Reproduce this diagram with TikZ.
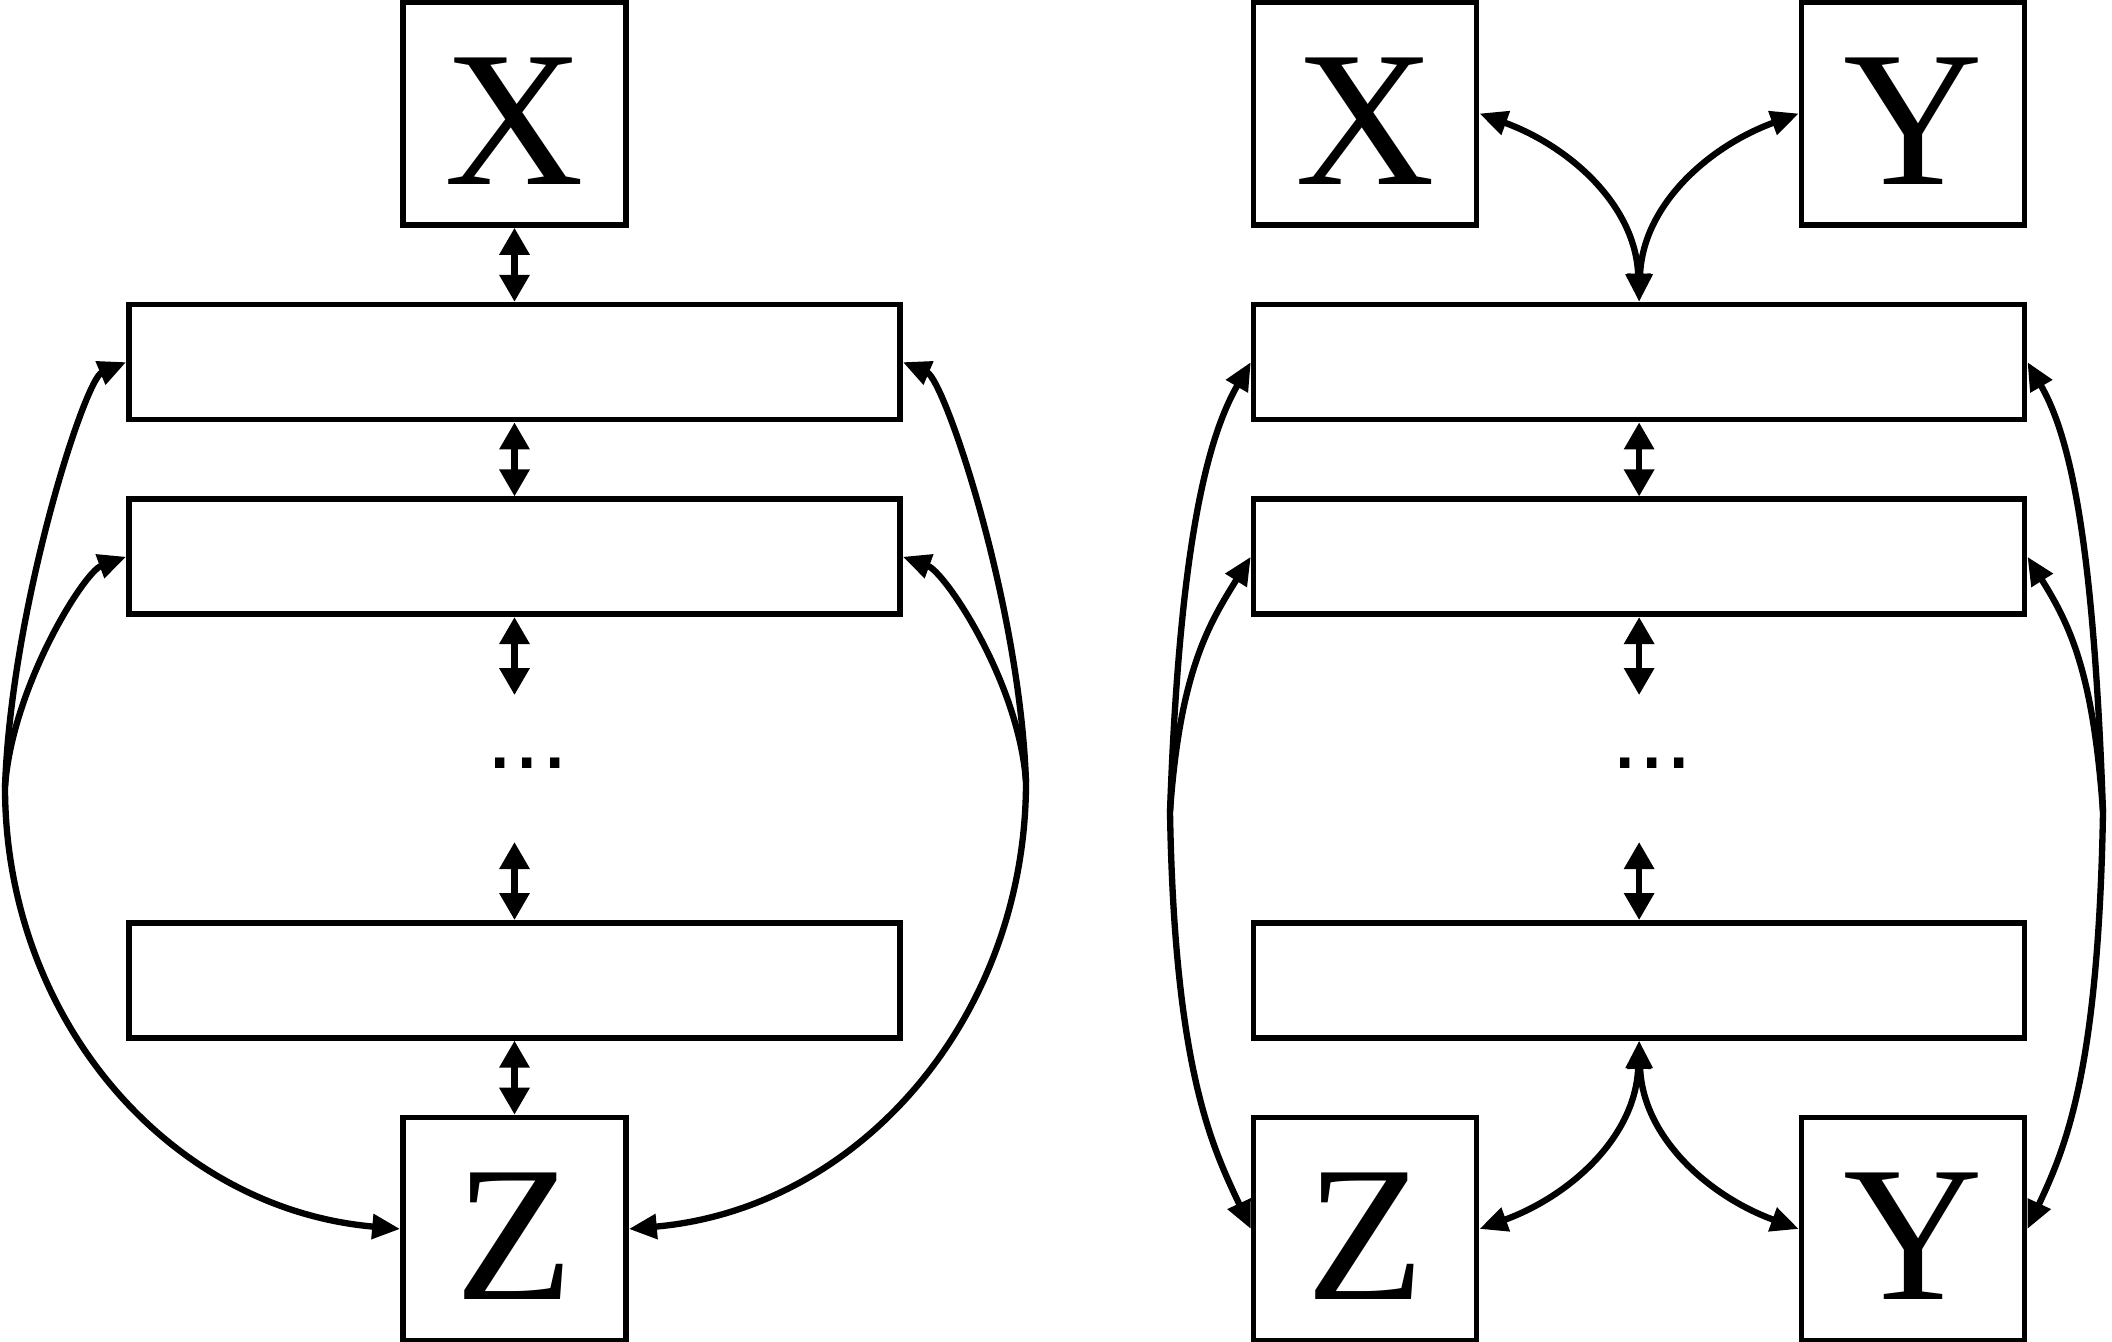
\documentclass[tikz,border=0pt]{standalone}
\usepackage{fontspec}
\setmainfont{Liberation Serif}
\newfontfamily\dotsfont{Liberation Sans}
\usetikzlibrary{arrows.meta,positioning,calc}

\begin{document}
\begin{tikzpicture}[
  node distance=0.74cm and 3.48cm,
  letter/.style={draw, line width=1.6pt, minimum width=2.23cm, minimum height=2.23cm, inner sep=0pt, text height=1.42cm, font=\fontsize{55}{60}\selectfont},
  bar/.style={draw, line width=1.6pt, minimum width=7.71cm, minimum height=1.15cm, inner sep=0pt},
  gap/.style={font=\dotsfont\fontsize{28}{30}\selectfont, inner sep=0pt},
  dbl/.style={{Triangle[length=0.27cm,width=0.29cm]}-{Triangle[length=0.27cm,width=0.29cm]}, line width=1.8pt},
  fork/.style={{Triangle[length=0.28cm,width=0.24cm]}-{Triangle[length=0.28cm,width=0.24cm]}, line width=1.8pt},
  arrow/.style={-{Triangle[length=0.28cm,width=0.24cm]}, line width=1.8pt}
]
\useasboundingbox (0,0) rectangle (21.12,13.42);

% left stack
\node[letter] (xl) at (5.145,12.285) {X};
\node[bar, below=of xl] (l1) {};
\node[bar, below=of l1] (l2) {};
\node[bar, below=3.03cm of l2] (l3) {};
\node[letter, below=of l3] (zl) {Z};
\node[gap] (ldots) at ($(l2.south)!0.5!(l3.north)+(0.13,0.05)$) {...};
\coordinate (l2e) at ([yshift=-0.78cm]l2.south);
\coordinate (l3e) at ([yshift=0.78cm]l3.north);
\coordinate (lhl) at (0.05,5.55);
\coordinate (lhr) at (10.26,5.6);

\draw[dbl] (xl) -- (l1);
\draw[dbl] (l1) -- (l2);
\draw[dbl] (l2) -- (l2e);
\draw[dbl] (l3e) -- (l3);
\draw[dbl] (l3) -- (zl);

\draw[arrow] (lhl) .. controls +(88:1.8) and +(203:0.45) .. (l1.west);
\draw[arrow] (lhl) .. controls +(86:1.0) and +(200:0.45) .. (l2.west);
\draw[arrow] (lhl) to[out=-90,in=175] (zl.west);
\draw[arrow] (lhr) .. controls +(92:1.8) and +(-23:0.45) .. (l1.east);
\draw[arrow] (lhr) .. controls +(94:1.0) and +(-20:0.45) .. (l2.east);
\draw[arrow] (lhr) to[out=-90,in=5] (zl.east);

% right stack
\node[bar, right=of l1] (r1) {};
\node[bar, right=of l2] (r2) {};
\node[bar, right=of l3] (r3) {};
\node[letter, anchor=south west] (xr) at ([yshift=0.74cm]r1.north west) {X};
\node[letter, anchor=south east] (yt) at ([yshift=0.74cm]r1.north east) {Y};
\node[letter, anchor=north west] (zr) at ([yshift=-0.74cm]r3.south west) {Z};
\node[letter, anchor=north east] (yb) at ([yshift=-0.74cm]r3.south east) {Y};
\node[gap] (rdots) at ($(r2.south)!0.5!(r3.north)+(0.13,0.05)$) {...};
\coordinate (r2e) at ([yshift=-0.78cm]r2.south);
\coordinate (r3e) at ([yshift=0.78cm]r3.north);
\coordinate (rhl) at (11.70,5.3);
\coordinate (rhr) at (21.03,5.3);

\draw[dbl] (r1) -- (r2);
\draw[dbl] (r2) -- (r2e);
\draw[dbl] (r3e) -- (r3);

\draw[fork] (r1.north) to[out=92,in=-20] (xr.east);
\draw[fork] (r1.north) to[out=88,in=200] (yt.west);
\draw[fork] (r3.south) to[out=-92,in=20] (zr.east);
\draw[fork] (r3.south) to[out=-88,in=160] (yb.west);

\draw[arrow] (rhl) .. controls +(88:2.6) and +(240:0.9) .. (r1.west);
\draw[arrow] (rhl) .. controls +(86:1.4) and +(238:0.8) .. (r2.west);
\draw[arrow] (rhl) .. controls +(-89:2.6) and +(115:0.9) .. (zr.west);
\draw[arrow] (rhr) .. controls +(92:2.6) and +(-60:0.9) .. (r1.east);
\draw[arrow] (rhr) .. controls +(94:1.4) and +(-58:0.8) .. (r2.east);
\draw[arrow] (rhr) .. controls +(-91:2.6) and +(65:0.9) .. (yb.east);
\end{tikzpicture}
\end{document}
